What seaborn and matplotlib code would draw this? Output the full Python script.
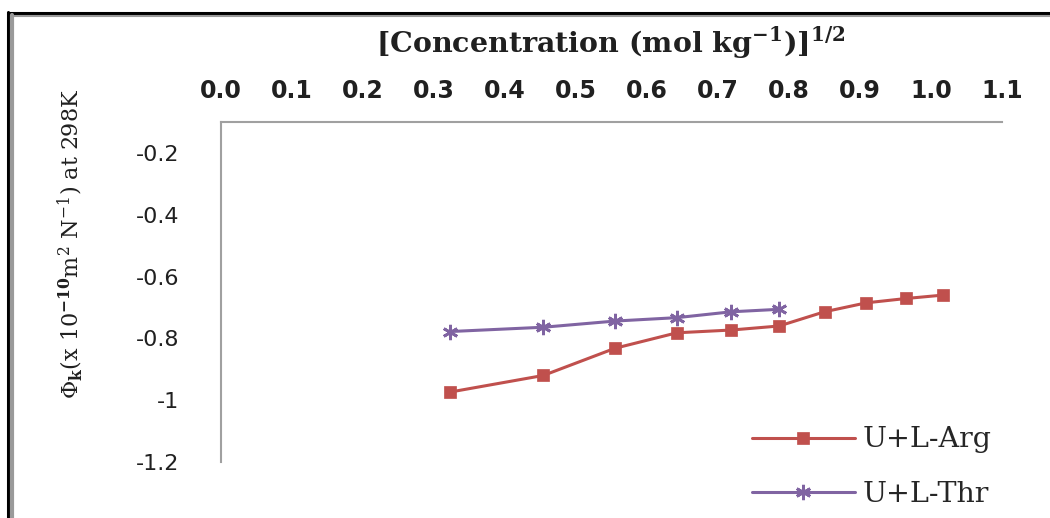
import matplotlib
matplotlib.use("Agg")
import matplotlib.pyplot as plt
from matplotlib.lines import Line2D
import seaborn as sns
import pandas as pd

# Square root of molality, (mol kg^-1)^1/2
arg_x = [0.322, 0.454, 0.555, 0.642, 0.719, 0.786, 0.850, 0.909, 0.965, 1.017]
arg_phi = [-0.974, -0.920, -0.832, -0.782, -0.773, -0.760, -0.714, -0.685, -0.671, -0.660]
thr_x = [0.322, 0.454, 0.555, 0.642, 0.719, 0.786]
thr_phi = [-0.778, -0.764, -0.744, -0.733, -0.714, -0.706]

series_names = ["U+L-Arg", "U+L-Thr"]
x_ticks = [0.0, 0.1, 0.2, 0.3, 0.4, 0.5, 0.6, 0.7, 0.8, 0.9, 1.0, 1.1]
y_ticks = [-0.2, -0.4, -0.6, -0.8, -1.0, -1.2]
y_tick_labels = ["-0.2", "-0.4", "-0.6", "-0.8", "-1", "-1.2"]

arg_df = pd.DataFrame({"x": arg_x, "phi": arg_phi})
thr_df = pd.DataFrame({"x": thr_x, "phi": thr_phi})

sns.set_theme(style="white")
plt.rcParams["font.family"] = ["DejaVu Sans"]
plt.rcParams["mathtext.fontset"] = "custom"
plt.rcParams["mathtext.rm"] = "DejaVu Serif"
plt.rcParams["mathtext.bf"] = "DejaVu Serif:bold"

RED = "#C0504D"
PURPLE = "#8064A2"
AXIS_GREY = "#A0A0A0"

fig = plt.figure(figsize=(10.5, 5.18), dpi=100)
ax = fig.add_axes([221 / 1050, 1 - 462 / 518, (1002 - 221) / 1050, (462 - 122) / 518])

sns.lineplot(data=arg_df, x="x", y="phi", ax=ax, color=RED, linewidth=2.2,
             marker="s", markersize=9, markeredgecolor=RED, markeredgewidth=0.5,
             sort=False, label=series_names[0])
sns.lineplot(data=thr_df, x="x", y="phi", ax=ax, color=PURPLE, linewidth=2.2,
             marker=(6, 2, 0), markersize=11, markeredgecolor=PURPLE, markeredgewidth=2.0,
             sort=False, label=series_names[1])

ax.set_xlim(0.0, 1.1)
ax.set_ylim(-1.2, -0.1)
ax.set_xticks(x_ticks)
ax.set_xticklabels([f"{v:.1f}" for v in x_ticks], fontsize=17, fontweight="bold",
                   color="#202020")
ax.set_yticks(y_ticks)
ax.set_yticklabels(y_tick_labels, fontsize=16, color="#202020")
ax.xaxis.tick_top()
ax.tick_params(axis="x", length=0, pad=14)
ax.tick_params(axis="y", length=0, pad=30)

for side in ("right", "bottom"):
    ax.spines[side].set_visible(False)
for side in ("left", "top"):
    ax.spines[side].set_color(AXIS_GREY)
    ax.spines[side].set_linewidth(1.5)

ax.set_xlabel("")
ax.set_ylabel("")
ax.get_legend().remove()

fig.text(611 / 1050, 1 - 43 / 518,
         r"[Concentration (mol kg$^{\mathregular{-1}}$)]$^{\mathbf{1/2}}$",
         ha="center", va="center", fontsize=20.5, fontweight="bold",
         family="DejaVu Serif", color="#202020")
fig.text(70 / 1050, 1 - 244 / 518,
         r"$\mathregular{\Phi}_{\mathbf{k}}$(x 10$^{\mathbf{-10}}$m$^{\mathregular{2}}$ N$^{\mathregular{-1}}$) at 298K",
         ha="center", va="center", rotation=90, fontsize=16,
         family="DejaVu Serif", color="#202020")

handles, labels = ax.get_legend_handles_labels()
fig.legend(handles, labels, loc="center left",
           bbox_to_anchor=(752 / 1050, 1 - 467 / 518), frameon=False,
           prop={"family": "DejaVu Serif", "size": 20.5},
           handlelength=3.6, handletextpad=0.3, labelspacing=0.95,
           borderpad=0, borderaxespad=0)

# Double frame along the left and top edges
fig.add_artist(Line2D([8 / 1050, 8 / 1050], [0, 1 - 12 / 518], transform=fig.transFigure,
                      color="black", linewidth=2.2))
fig.add_artist(Line2D([8 / 1050, 1], [1 - 13 / 518, 1 - 13 / 518], transform=fig.transFigure,
                      color="black", linewidth=2.2))
fig.add_artist(Line2D([12 / 1050, 12 / 1050], [0, 1 - 15 / 518], transform=fig.transFigure,
                      color="#9A9A9A", linewidth=3))
fig.add_artist(Line2D([12 / 1050, 1], [1 - 15.5 / 518, 1 - 15.5 / 518], transform=fig.transFigure,
                      color="#9A9A9A", linewidth=1.5))

fig.savefig("out.png", dpi=100)
